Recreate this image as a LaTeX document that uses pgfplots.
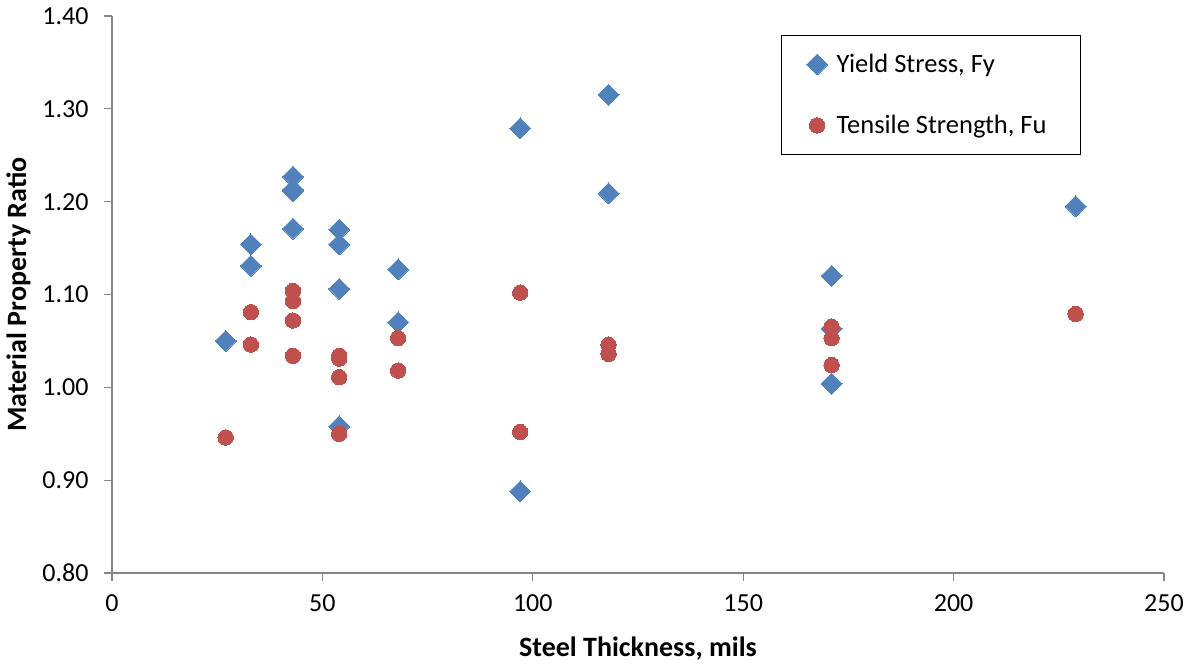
\documentclass[border=0pt]{standalone}
\usepackage{pgfplots}
\pgfplotsset{compat=1.18}
\usepackage{fontspec}
\setmainfont{Carlito}
\definecolor{fyblue}{HTML}{4F81BD}
\definecolor{fured}{HTML}{C0504D}
\definecolor{axgray}{HTML}{868686}
\begin{document}
\begin{tikzpicture}
\begin{axis}[
  name=ax,
  scale only axis,
  width=1052pt, height=557pt,
  xmin=0, xmax=250, ymin=0.8, ymax=1.4,
  xtick={0,50,...,250},
  ytick={0.8,0.9,1.0,1.1,1.2,1.3,1.4},
  axis lines=left,
  axis line style={draw=axgray, line width=1.3pt, -},
  tick style={draw=axgray, line width=1.3pt},
  tick align=outside,
  major tick length=8pt,
  every tick label/.append style={font=\fontsize{26}{30}\selectfont},
  /pgf/number format/assume math mode=true,
  yticklabel style={/pgf/number format/fixed, /pgf/number format/fixed zerofill, /pgf/number format/precision=2, xshift=-12pt},
  xticklabel style={yshift=-10pt},
  xlabel={\textbf{Steel Thickness, mils}},
  ylabel={\textbf{Material Property Ratio}},
  label style={font=\fontsize{28}{32}\selectfont},
  xlabel style={yshift=-18pt},
  ylabel style={yshift=5pt},
  legend style={at={(0.636,0.966)}, anchor=north west, draw=black, line width=1.2pt,
    font=\fontsize{26.5}{30}\selectfont, inner xsep=25pt, inner ysep=17pt,
    row sep=37pt, legend cell align=left,
    nodes={inner xsep=9pt}},
  clip=false,
]
\addplot[only marks, mark=square*, mark size=7.4pt, mark options={rotate=45, fill=fyblue, draw=fyblue, line width=0pt}, fyblue] coordinates {
(27,1.050)
(33,1.154) (33,1.131)
(43,1.227) (43,1.213) (43,1.211) (43,1.171)
(54,1.170) (54,1.154) (54,1.106) (54,0.958)
(68,1.127) (68,1.070)
(97,1.279) (97,0.888)
(118,1.315) (118,1.209)
(171,1.120) (171,1.063) (171,1.004)
(229,1.195)
};
\addlegendentry{Yield Stress, Fy}
\addplot[only marks, mark=*, mark size=7.7pt, mark options={fill=fured, draw=fured, line width=0pt}, fured] coordinates {
(27,0.946)
(33,1.081) (33,1.046)
(43,1.104) (43,1.093) (43,1.072) (43,1.034)
(54,1.034) (54,1.031) (54,1.011) (54,0.950)
(68,1.053) (68,1.018)
(97,1.102) (97,0.952)
(118,1.046) (118,1.036)
(171,1.065) (171,1.053) (171,1.024)
(229,1.079)
};
\addlegendentry{Tensile Strength, Fu}
\end{axis}
\pgfresetboundingbox
\path ([shift={(-112pt,-93pt)}]ax.south west) rectangle ([shift={(32pt,16pt)}]ax.north east);
\end{tikzpicture}
\end{document}
